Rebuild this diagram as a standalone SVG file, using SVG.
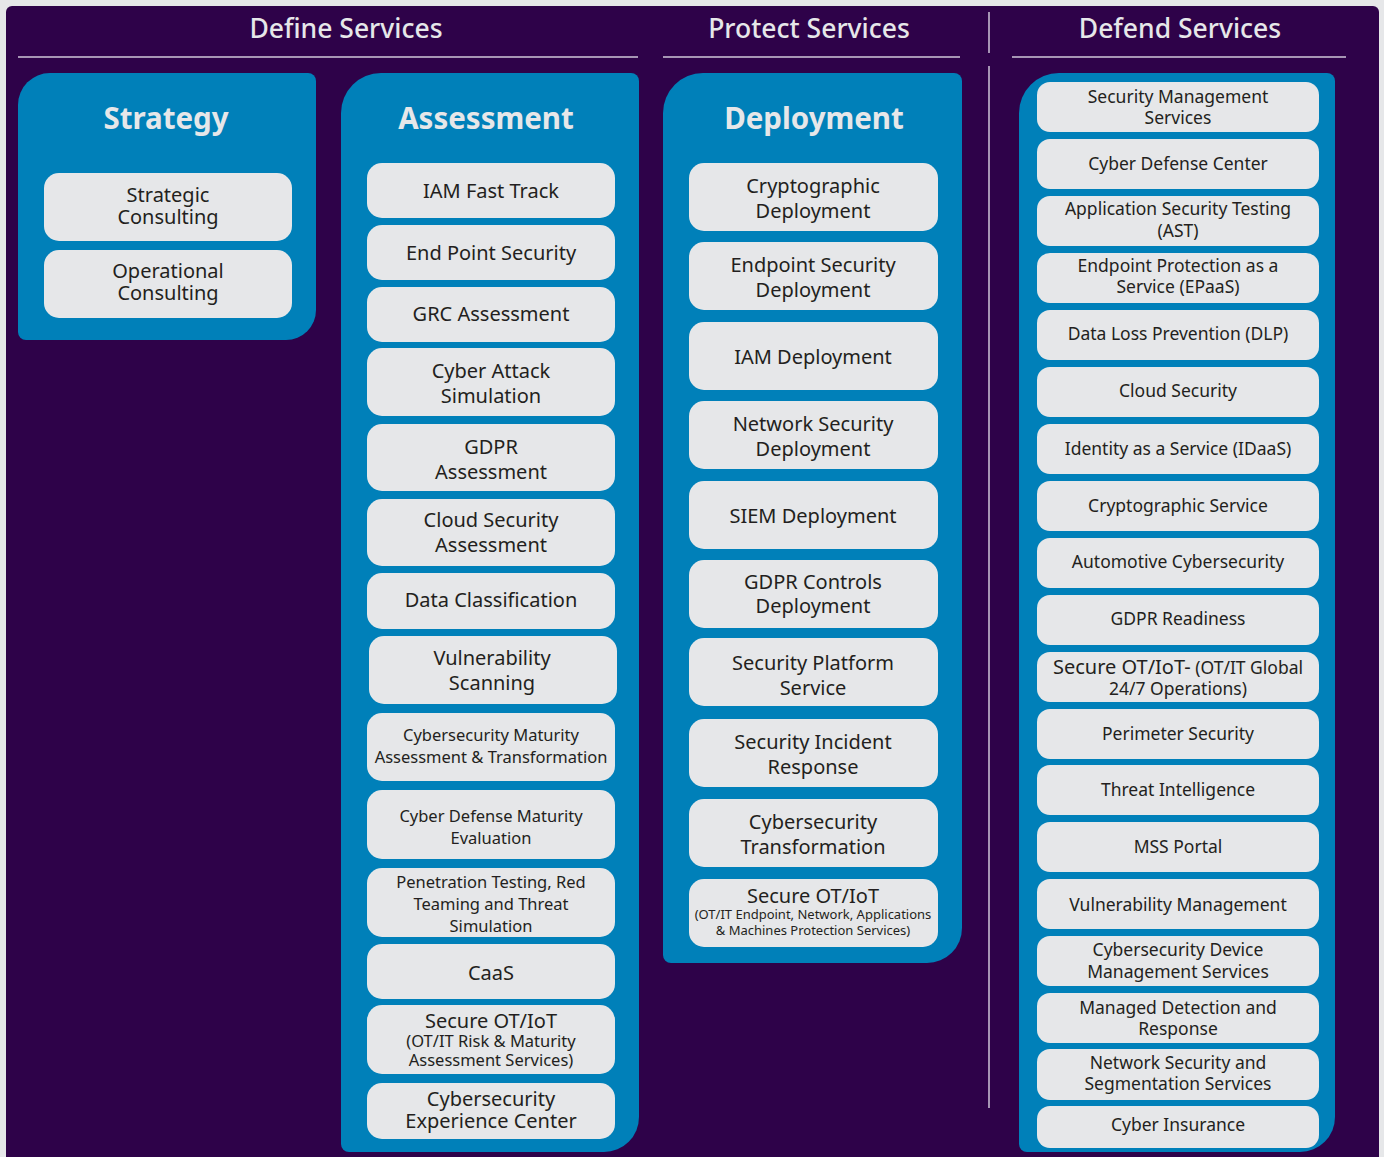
<svg xmlns="http://www.w3.org/2000/svg" width="1384" height="1157" viewBox="0 0 1384 1157">
<style>
.hdr{font-family:"Noto Sans","DejaVu Sans",sans-serif;font-size:26.5px;font-weight:500;fill:#e6e7e9;text-anchor:middle}
.ttl{font-family:"Noto Sans","DejaVu Sans",sans-serif;font-size:29.5px;font-weight:700;fill:#e6e7e9;text-anchor:middle}
.panel{fill:#0080b9}
.box{fill:#e6e7e9}
.t{font-family:"Noto Sans","DejaVu Sans",sans-serif;fill:#231f20;text-anchor:middle}
.l{font-size:20px}
.m{font-size:16.5px}
.s{font-size:13px}
.d{font-size:17.5px}
.rule{stroke:#cfc7d8;stroke-width:1.5;fill:none}
</style>
<rect x="0" y="0" width="1384" height="1157" fill="#e6e7e9"/>
<rect x="6" y="6" width="1373" height="1160" rx="6" fill="#2e0249"/>
<g id="headers">
<text class="hdr" x="346" y="38">Define Services</text>
<text class="hdr" x="809" y="38">Protect Services</text>
<text class="hdr" x="1180" y="38">Defend Services</text>
<line class="rule" x1="18" y1="57" x2="638" y2="57"/>
<line class="rule" x1="663" y1="57" x2="960" y2="57"/>
<line class="rule" x1="1012" y1="57" x2="1346" y2="57"/>
<line class="rule" x1="989" y1="12" x2="989" y2="53"/>
<line class="rule" x1="989" y1="66" x2="989" y2="1108"/>
</g>

<g id="strategy">
<path class="panel" d="M18,105 A32,32 0 0 1 50,73 L308,73 A8,8 0 0 1 316,81 L316,310 A30,30 0 0 1 286,340 L26,340 A8,8 0 0 1 18,332 Z"/>
<text class="ttl" x="166" y="129">Strategy</text>
<g id="strategic-consulting"><rect class="box" x="44" y="173" width="248" height="68" rx="15"/><text class="t l" x="168"><tspan x="168" y="202">Strategic</tspan><tspan x="168" y="224">Consulting</tspan></text></g>
<g id="operational-consulting"><rect class="box" x="44" y="250" width="248" height="68" rx="15"/><text class="t l" x="168"><tspan x="168" y="278">Operational</tspan><tspan x="168" y="300">Consulting</tspan></text></g>
</g>

<g id="assessment">
<path class="panel" d="M341,113 A40,40 0 0 1 381,73 L631,73 A8,8 0 0 1 639,81 L639,1117 A35,35 0 0 1 604,1152 L349,1152 A8,8 0 0 1 341,1144 Z"/>
<text class="ttl" x="486" y="129">Assessment</text>
<g id="a1"><rect class="box" x="367" y="163" width="248" height="55" rx="15"/><text class="t l" x="491" y="198">IAM Fast Track</text></g>
<g id="a2"><rect class="box" x="367" y="225" width="248" height="55" rx="15"/><text class="t l" x="491" y="260">End Point Security</text></g>
<g id="a3"><rect class="box" x="367" y="287" width="248" height="55" rx="15"/><text class="t l" x="491" y="321">GRC Assessment</text></g>
<g id="a4"><rect class="box" x="367" y="348" width="248" height="68" rx="15"/><text class="t l"><tspan x="491" y="378">Cyber Attack</tspan><tspan x="491" y="403">Simulation</tspan></text></g>
<g id="a5"><rect class="box" x="367" y="424" width="248" height="67" rx="15"/><text class="t l"><tspan x="491" y="454">GDPR</tspan><tspan x="491" y="479">Assessment</tspan></text></g>
<g id="a6"><rect class="box" x="367" y="499" width="248" height="67" rx="15"/><text class="t l"><tspan x="491" y="527">Cloud Security</tspan><tspan x="491" y="552">Assessment</tspan></text></g>
<g id="a7"><rect class="box" x="367" y="573" width="248" height="56" rx="15"/><text class="t l" x="491" y="607">Data Classification</text></g>
<g id="a8"><rect class="box" x="369" y="636" width="248" height="68" rx="15"/><text class="t l"><tspan x="492" y="665">Vulnerability</tspan><tspan x="492" y="690">Scanning</tspan></text></g>
<g id="a9"><rect class="box" x="367" y="713" width="248" height="68" rx="15"/><text class="t m"><tspan x="491" y="741">Cybersecurity Maturity</tspan><tspan x="491" y="763">Assessment &amp; Transformation</tspan></text></g>
<g id="a10"><rect class="box" x="367" y="790" width="248" height="69" rx="15"/><text class="t m"><tspan x="491" y="822">Cyber Defense Maturity</tspan><tspan x="491" y="844">Evaluation</tspan></text></g>
<g id="a11"><rect class="box" x="367" y="868" width="248" height="69" rx="15"/><text class="t m"><tspan x="491" y="888">Penetration Testing, Red</tspan><tspan x="491" y="910">Teaming and Threat</tspan><tspan x="491" y="932">Simulation</tspan></text></g>
<g id="a12"><rect class="box" x="367" y="944" width="248" height="55" rx="15"/><text class="t l" x="491" y="980">CaaS</text></g>
<g id="a13"><rect class="box" x="367" y="1005" width="248" height="69" rx="15"/><text class="t"><tspan class="l" x="491" y="1028">Secure OT/IoT</tspan><tspan class="m" x="491" y="1047">(OT/IT Risk &amp; Maturity</tspan><tspan class="m" x="491" y="1066">Assessment Services)</tspan></text></g>
<g id="a14"><rect class="box" x="367" y="1083" width="248" height="56" rx="15"/><text class="t l"><tspan x="491" y="1106">Cybersecurity</tspan><tspan x="491" y="1128">Experience Center</tspan></text></g>
</g>

<g id="deployment">
<path class="panel" d="M663,113 A40,40 0 0 1 703,73 L954,73 A8,8 0 0 1 962,81 L962,928 A35,35 0 0 1 927,963 L671,963 A8,8 0 0 1 663,955 Z"/>
<text class="ttl" x="814" y="129">Deployment</text>
<g id="p1"><rect class="box" x="689" y="163" width="249" height="68" rx="15"/><text class="t l"><tspan x="813" y="193">Cryptographic</tspan><tspan x="813" y="218">Deployment</tspan></text></g>
<g id="p2"><rect class="box" x="689" y="242" width="249" height="68" rx="15"/><text class="t l"><tspan x="813" y="272">Endpoint Security</tspan><tspan x="813" y="297">Deployment</tspan></text></g>
<g id="p3"><rect class="box" x="689" y="322" width="249" height="68" rx="15"/><text class="t l" x="813" y="364">IAM Deployment</text></g>
<g id="p4"><rect class="box" x="689" y="401" width="249" height="68" rx="15"/><text class="t l"><tspan x="813" y="431">Network Security</tspan><tspan x="813" y="456">Deployment</tspan></text></g>
<g id="p5"><rect class="box" x="689" y="481" width="249" height="68" rx="15"/><text class="t l" x="813" y="523">SIEM Deployment</text></g>
<g id="p6"><rect class="box" x="689" y="560" width="249" height="68" rx="15"/><text class="t l"><tspan x="813" y="589">GDPR Controls</tspan><tspan x="813" y="613">Deployment</tspan></text></g>
<g id="p7"><rect class="box" x="689" y="638" width="249" height="68" rx="15"/><text class="t l"><tspan x="813" y="670">Security Platform</tspan><tspan x="813" y="695">Service</tspan></text></g>
<g id="p8"><rect class="box" x="689" y="719" width="249" height="68" rx="15"/><text class="t l"><tspan x="813" y="749">Security Incident</tspan><tspan x="813" y="774">Response</tspan></text></g>
<g id="p9"><rect class="box" x="689" y="799" width="249" height="68" rx="15"/><text class="t l"><tspan x="813" y="829">Cybersecurity</tspan><tspan x="813" y="854">Transformation</tspan></text></g>
<g id="p10"><rect class="box" x="689" y="879" width="249" height="68" rx="15"/><text class="t"><tspan class="l" x="813" y="903">Secure OT/IoT</tspan><tspan class="s" x="813" y="919">(OT/IT Endpoint, Network, Applications</tspan><tspan class="s" x="813" y="935">&amp; Machines Protection Services)</tspan></text></g>
</g>

<g id="defend">
<path class="panel" d="M1019,113 A40,40 0 0 1 1059,73 L1327,73 A8,8 0 0 1 1335,81 L1335,1117 A35,35 0 0 1 1300,1152 L1027,1152 A8,8 0 0 1 1019,1144 Z"/>
<g id="d1"><rect class="box" x="1037" y="82" width="282" height="50" rx="13"/><text class="t d"><tspan x="1178" y="103">Security Management</tspan><tspan x="1178" y="124">Services</tspan></text></g>
<g id="d2"><rect class="box" x="1037" y="139" width="282" height="50" rx="13"/><text class="t d" x="1178" y="170">Cyber Defense Center</text></g>
<g id="d3"><rect class="box" x="1037" y="196" width="282" height="50" rx="13"/><text class="t d"><tspan x="1178" y="215">Application Security Testing</tspan><tspan x="1178" y="237">(AST)</tspan></text></g>
<g id="d4"><rect class="box" x="1037" y="253" width="282" height="50" rx="13"/><text class="t d"><tspan x="1178" y="272">Endpoint Protection as a</tspan><tspan x="1178" y="293">Service (EPaaS)</tspan></text></g>
<g id="d5"><rect class="box" x="1037" y="310" width="282" height="50" rx="13"/><text class="t d" x="1178" y="340">Data Loss Prevention (DLP)</text></g>
<g id="d6"><rect class="box" x="1037" y="367" width="282" height="50" rx="13"/><text class="t d" x="1178" y="397">Cloud Security</text></g>
<g id="d7"><rect class="box" x="1037" y="424" width="282" height="50" rx="13"/><text class="t d" x="1178" y="455">Identity as a Service (IDaaS)</text></g>
<g id="d8"><rect class="box" x="1037" y="481" width="282" height="50" rx="13"/><text class="t d" x="1178" y="512">Cryptographic Service</text></g>
<g id="d9"><rect class="box" x="1037" y="538" width="282" height="50" rx="13"/><text class="t d" x="1178" y="568">Automotive Cybersecurity</text></g>
<g id="d10"><rect class="box" x="1037" y="595" width="282" height="50" rx="13"/><text class="t d" x="1178" y="625">GDPR Readiness</text></g>
<g id="d11"><rect class="box" x="1037" y="652" width="282" height="50" rx="13"/><text class="t d"><tspan x="1178" y="674"><tspan class="l">Secure OT/IoT-</tspan> (OT/IT Global</tspan><tspan x="1178" y="695">24/7 Operations)</tspan></text></g>
<g id="d12"><rect class="box" x="1037" y="709" width="282" height="50" rx="13"/><text class="t d" x="1178" y="740">Perimeter Security</text></g>
<g id="d13"><rect class="box" x="1037" y="765" width="282" height="50" rx="13"/><text class="t d" x="1178" y="796">Threat Intelligence</text></g>
<g id="d14"><rect class="box" x="1037" y="822" width="282" height="50" rx="13"/><text class="t d" x="1178" y="853">MSS Portal</text></g>
<g id="d15"><rect class="box" x="1037" y="879" width="282" height="50" rx="13"/><text class="t d" x="1178" y="911">Vulnerability Management</text></g>
<g id="d16"><rect class="box" x="1037" y="936" width="282" height="50" rx="13"/><text class="t d"><tspan x="1178" y="956">Cybersecurity Device</tspan><tspan x="1178" y="978">Management Services</tspan></text></g>
<g id="d17"><rect class="box" x="1037" y="993" width="282" height="50" rx="13"/><text class="t d"><tspan x="1178" y="1014">Managed Detection and</tspan><tspan x="1178" y="1035">Response</tspan></text></g>
<g id="d18"><rect class="box" x="1037" y="1049" width="282" height="51" rx="13"/><text class="t d"><tspan x="1178" y="1069">Network Security and</tspan><tspan x="1178" y="1090">Segmentation Services</tspan></text></g>
<g id="d19"><rect class="box" x="1037" y="1106" width="282" height="42" rx="13"/><text class="t d" x="1178" y="1131">Cyber Insurance</text></g>
</g>
<g id="connectors"/>
</svg>
